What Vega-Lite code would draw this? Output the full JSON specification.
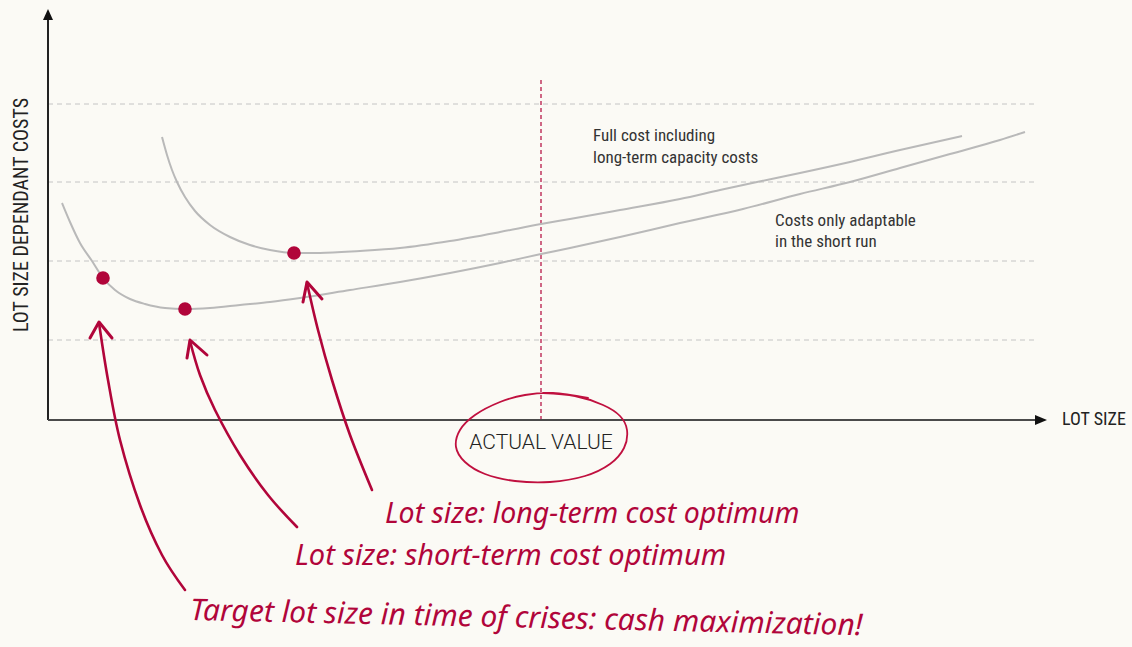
{
  "$schema": "https://vega.github.io/schema/vega-lite/v6.json",
  "width": 1132,
  "height": 647,
  "autosize": {"type": "fit", "contains": "padding"},
  "padding": 0,
  "background": "#fbfaf5",
  "config": {"view": {"stroke": null}},
  "datasets": {
    "grid": [{"y": 80, "x": 0, "x2": 989}, {"y": 159, "x": 0, "x2": 989}, {"y": 238, "x": 0, "x2": 989}, {"y": 316, "x": 0, "x2": 989}],
    "vline": [{"x": 493, "y": 0, "y2": 340}],
    "yaxis": [{"x": 0, "y": 0, "y2": 402}],
    "xaxis": [{"x": 0, "x2": 988, "y": 0}],
    "lower": [
      {"x": 14, "y": 217}, {"x": 22, "y": 198}, {"x": 32, "y": 177}, {"x": 44, "y": 159},
      {"x": 55, "y": 142}, {"x": 67, "y": 130}, {"x": 82, "y": 121}, {"x": 97, "y": 116},
      {"x": 117, "y": 112}, {"x": 137, "y": 111}, {"x": 162, "y": 112}, {"x": 192, "y": 115},
      {"x": 222, "y": 118}, {"x": 252, "y": 122}, {"x": 302, "y": 130}, {"x": 352, "y": 138},
      {"x": 402, "y": 147}, {"x": 452, "y": 157}, {"x": 493, "y": 166}, {"x": 522, "y": 172},
      {"x": 572, "y": 183}, {"x": 632, "y": 197}, {"x": 695, "y": 211}, {"x": 752, "y": 226},
      {"x": 802, "y": 238}, {"x": 852, "y": 252}, {"x": 902, "y": 266}, {"x": 952, "y": 280},
      {"x": 977, "y": 288}
    ],
    "upper": [
      {"x": 114, "y": 283}, {"x": 119, "y": 265}, {"x": 124, "y": 250}, {"x": 129, "y": 238},
      {"x": 137, "y": 223}, {"x": 147, "y": 209}, {"x": 162, "y": 195}, {"x": 182, "y": 183},
      {"x": 202, "y": 175}, {"x": 222, "y": 170}, {"x": 246, "y": 167}, {"x": 272, "y": 167},
      {"x": 312, "y": 169}, {"x": 352, "y": 172}, {"x": 402, "y": 179}, {"x": 452, "y": 188},
      {"x": 493, "y": 196}, {"x": 522, "y": 201}, {"x": 572, "y": 210}, {"x": 632, "y": 221},
      {"x": 672, "y": 230}, {"x": 709, "y": 238}, {"x": 752, "y": 247}, {"x": 802, "y": 258},
      {"x": 852, "y": 270}, {"x": 914, "y": 284}
    ],
    "dots": [{"x": 55, "y": 142}, {"x": 137, "y": 111}, {"x": 246, "y": 167}],
    "shafts": [
      {"id": "a1", "i": 1, "x": 51, "y": 97}, {"id": "a1", "i": 2, "x": 60, "y": 40},
      {"id": "a1", "i": 3, "x": 72, "y": -20}, {"id": "a1", "i": 4, "x": 92, "y": -85},
      {"id": "a1", "i": 5, "x": 114, "y": -135}, {"id": "a1", "i": 6, "x": 137, "y": -170},
      {"id": "a2", "i": 1, "x": 142, "y": 79}, {"id": "a2", "i": 2, "x": 152, "y": 45},
      {"id": "a2", "i": 3, "x": 167, "y": 10}, {"id": "a2", "i": 4, "x": 192, "y": -35},
      {"id": "a2", "i": 5, "x": 220, "y": -75}, {"id": "a2", "i": 6, "x": 249, "y": -107},
      {"id": "a3", "i": 1, "x": 259, "y": 137}, {"id": "a3", "i": 2, "x": 270, "y": 90},
      {"id": "a3", "i": 3, "x": 284, "y": 40}, {"id": "a3", "i": 4, "x": 302, "y": -15},
      {"id": "a3", "i": 5, "x": 324, "y": -70}
    ],
    "heads": [
      {"id": "h1", "i": 1, "x": 42, "y": 82}, {"id": "h1", "i": 2, "x": 51, "y": 98}, {"id": "h1", "i": 3, "x": 64, "y": 82},
      {"id": "h2", "i": 1, "x": 139, "y": 62}, {"id": "h2", "i": 2, "x": 142, "y": 80}, {"id": "h2", "i": 3, "x": 159, "y": 65},
      {"id": "h3", "i": 1, "x": 255, "y": 118}, {"id": "h3", "i": 2, "x": 259, "y": 138}, {"id": "h3", "i": 3, "x": 274, "y": 121}
    ],
    "ellipse": [
      {"i": 1, "x": 495, "y": 27}, {"i": 2, "x": 527, "y": 24}, {"i": 3, "x": 555, "y": 15},
      {"i": 4, "x": 572, "y": 4}, {"i": 5, "x": 579, "y": -10}, {"i": 6, "x": 576, "y": -28},
      {"i": 7, "x": 562, "y": -44}, {"i": 8, "x": 537, "y": -56}, {"i": 9, "x": 502, "y": -62},
      {"i": 10, "x": 467, "y": -61}, {"i": 11, "x": 437, "y": -54}, {"i": 12, "x": 417, "y": -42},
      {"i": 13, "x": 408, "y": -27}, {"i": 14, "x": 412, "y": -10}, {"i": 15, "x": 427, "y": 5},
      {"i": 16, "x": 452, "y": 18}, {"i": 17, "x": 477, "y": 25}, {"i": 18, "x": 505, "y": 27},
      {"i": 19, "x": 540, "y": 22}
    ],
    "axisheads": [{"x": 0, "y": 400, "dir": "up"}, {"x": 987, "y": 0, "dir": "right"}],
    "labels": [
      {"x": 545, "y": 279, "text": "Full cost including", "kind": "note"},
      {"x": 545, "y": 257, "text": "long-term capacity costs", "kind": "note"},
      {"x": 727, "y": 194, "text": "Costs only adaptable", "kind": "note"},
      {"x": 727, "y": 173, "text": "in the short run", "kind": "note"},
      {"x": 1014, "y": 0, "text": "LOT SIZE", "kind": "xtitle"},
      {"x": -26, "y": 205, "text": "LOT SIZE DEPENDANT COSTS", "kind": "ytitle"},
      {"x": 493, "y": -23, "text": "ACTUAL VALUE", "kind": "actual"},
      {"x": 337, "y": -103, "text": "Lot size: long-term cost optimum", "kind": "hand1"},
      {"x": 247, "y": -145, "text": "Lot size: short-term cost optimum", "kind": "hand2"},
      {"x": 142, "y": -200, "text": "Target lot size in time of crises: cash maximization!", "kind": "hand3"}
    ]
  },
  "encoding": {
    "x": {"field": "x", "type": "quantitative", "axis": null, "scale": {"domain": [-48, 1084], "nice": false, "zero": false}},
    "y": {"field": "y", "type": "quantitative", "axis": null, "scale": {"domain": [-227, 420], "nice": false, "zero": false}}
  },
  "layer": [
    {
      "data": {"name": "grid"},
      "mark": {"type": "rule", "color": "#c4c4c4", "strokeWidth": 1, "strokeDash": [5, 4]},
      "encoding": {"x2": {"field": "x2"}}
    },
    {
      "data": {"name": "vline"},
      "mark": {"type": "rule", "color": "#b1053a", "strokeWidth": 1.2, "strokeDash": [4, 3]},
      "encoding": {"y2": {"field": "y2"}}
    },
    {
      "data": {"name": "lower"},
      "mark": {"type": "line", "color": "#b9b9b9", "strokeWidth": 2, "interpolate": "monotone"}
    },
    {
      "data": {"name": "upper"},
      "mark": {"type": "line", "color": "#b9b9b9", "strokeWidth": 2, "interpolate": "monotone"}
    },
    {
      "data": {"name": "yaxis"},
      "mark": {"type": "rule", "color": "#222222", "strokeWidth": 2},
      "encoding": {"y2": {"field": "y2"}}
    },
    {
      "data": {"name": "xaxis"},
      "mark": {"type": "rule", "color": "#4a4a4a", "strokeWidth": 2},
      "encoding": {"x2": {"field": "x2"}}
    },
    {
      "data": {"name": "axisheads"},
      "mark": {"type": "point", "filled": true, "size": 100, "opacity": 1, "color": "#111111"},
      "encoding": {
        "shape": {"field": "dir", "type": "nominal", "legend": null, "scale": {"domain": ["up", "right"], "range": ["M0,-2.2L1,0L-1,0Z", "M0,-1L2.4,0L0,1Z"]}}
      }
    },
    {
      "data": {"name": "dots"},
      "mark": {"type": "circle", "size": 185, "opacity": 1, "color": "#b1053a"}
    },
    {
      "data": {"name": "shafts"},
      "mark": {"type": "line", "color": "#b1053a", "strokeWidth": 2.6, "interpolate": "cardinal", "strokeCap": "round"},
      "encoding": {"detail": {"field": "id"}, "order": {"field": "i", "type": "quantitative"}}
    },
    {
      "data": {"name": "heads"},
      "mark": {"type": "line", "color": "#b1053a", "strokeWidth": 3, "strokeCap": "round", "strokeJoin": "round"},
      "encoding": {"detail": {"field": "id"}, "order": {"field": "i", "type": "quantitative"}}
    },
    {
      "data": {"name": "ellipse"},
      "mark": {"type": "line", "color": "#c0103f", "strokeWidth": 1.8, "interpolate": "cardinal", "strokeCap": "round"},
      "encoding": {"order": {"field": "i", "type": "quantitative"}}
    },
    {
      "data": {"name": "labels"},
      "transform": [{"filter": "datum.kind === 'note'"}],
      "mark": {"type": "text", "align": "left", "baseline": "alphabetic", "font": "Liberation Sans Narrow, Roboto Condensed, DejaVu Sans Condensed, sans-serif", "fontSize": 17, "color": "#333333"},
      "encoding": {"text": {"field": "text"}}
    },
    {
      "data": {"name": "labels"},
      "transform": [{"filter": "datum.kind === 'xtitle'"}],
      "mark": {"type": "text", "align": "left", "baseline": "middle", "font": "Liberation Sans Narrow, Roboto Condensed, DejaVu Sans Condensed, sans-serif", "fontSize": 18, "color": "#222222"},
      "encoding": {"text": {"field": "text"}}
    },
    {
      "data": {"name": "labels"},
      "transform": [{"filter": "datum.kind === 'ytitle'"}],
      "mark": {"type": "text", "align": "center", "baseline": "middle", "angle": 270, "font": "Liberation Sans Narrow, Roboto Condensed, DejaVu Sans Condensed, sans-serif", "fontSize": 20, "color": "#222222"},
      "encoding": {"text": {"field": "text"}}
    },
    {
      "data": {"name": "labels"},
      "transform": [{"filter": "datum.kind === 'actual'"}],
      "mark": {"type": "text", "align": "center", "baseline": "middle", "font": "Roboto", "fontWeight": 300, "fontSize": 21, "color": "#222222"},
      "encoding": {"text": {"field": "text"}}
    },
    {
      "data": {"name": "labels"},
      "transform": [{"filter": "datum.kind === 'hand1'"}],
      "mark": {"type": "text", "align": "left", "baseline": "alphabetic", "font": "Noto Sans", "fontStyle": "italic", "fontSize": 28.5, "color": "#b1053a"},
      "encoding": {"text": {"field": "text"}}
    },
    {
      "data": {"name": "labels"},
      "transform": [{"filter": "datum.kind === 'hand2'"}],
      "mark": {"type": "text", "align": "left", "baseline": "alphabetic", "font": "Noto Sans", "fontStyle": "italic", "fontSize": 29, "color": "#b1053a"},
      "encoding": {"text": {"field": "text"}}
    },
    {
      "data": {"name": "labels"},
      "transform": [{"filter": "datum.kind === 'hand3'"}],
      "mark": {"type": "text", "align": "left", "baseline": "alphabetic", "angle": 1.3, "font": "Noto Sans", "fontStyle": "italic", "fontSize": 30, "color": "#b1053a"},
      "encoding": {"text": {"field": "text"}}
    }
  ]
}
